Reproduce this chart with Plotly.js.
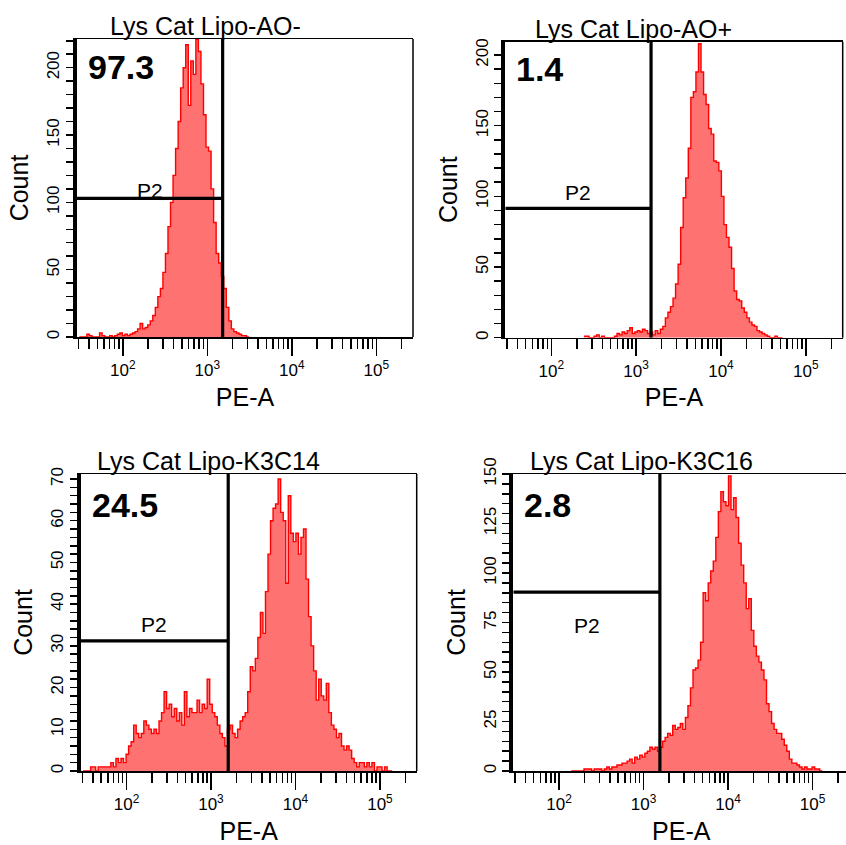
<!DOCTYPE html>
<html>
<head>
<meta charset="utf-8">
<script src="https://cdn.plot.ly/plotly-3.0.1.min.js"></script>
<style>
html, body { margin: 0; padding: 0; overflow: hidden; background: #ffffff; }
#chart { width: 850px; height: 845px; }
</style>
</head>
<body>
<div id="chart"></div>
<script>
// ---------------- data ----------------
const panelTitles = ["Lys Cat Lipo-AO-", "Lys Cat Lipo-AO+", "Lys Cat Lipo-K3C14", "Lys Cat Lipo-K3C16"];
const gatePercents = ["97.3", "1.4", "24.5", "2.8"];
const gateName = "P2";

// histogram bins: log10(PE-A) of first bin centre, equal log-width bins
const binStep = 0.03;
const binStarts = [1.50, 2.40, 1.50, 2.16];

const countsAOneg = [0,0,0,2,1,0,0,0,3,1, 0,0,1,0,1,2,3,1,2,1, 2,3,4,6,10,6,7,9,12,16,
  22,30,36,48,62,82,100,120,140,160, 185,200,217,172,205,195,221,212,188,165,
  141,138,110,85,62,55,45,36,22,12, 6,4,3,2,1,1,0];

const countsAOpos = [1,1,0,0,1,2,0,1,0,0, 0,0,1,3,2,4,3,5,7,3, 4,5,4,6,5,3,4,2,5,3,
  6,8,14,18,22,28,38,52,78,99, 113,134,170,174,188,208,188,172,165,148,
  144,125,124,118,100,80,71,64,49,33, 27,26,21,18,14,11,9,8,5,4, 3,2,1,0,0,1,0,0];

const countsK3C14 = [0,0,0,1,1,0,1,1,1,1, 1,2,1,3,2,3,2,4,6,7, 11,9,8,9,12,11,10,9,10,9,
  12,14,19,15,16,13,15,12,14,11, 19,13,15,14,14,17,14,16,15,22, 16,14,13,11,9,8,6,10,11,9,
  8,10,12,13,14,19,25,24,27,32, 38,33,43,52,60,63,64,70,62,60, 45,66,57,55,57,52,56,58,46,37,
  30,24,17,22,18,17,21,14,11,10, 8,9,6,5,6,5,3,2,1,2, 2,1,2,1,2,0,1,1,0,1, 0,0];

const countsK3C16 = [0,0,0,0,0,1,1,1,0,1, 1,1,0,1,2,1,2,2,3,3, 4,4,5,6,4,7,6,8,7,9,
  10,12,11,12,10,12,15,17,19,18, 23,21,22,24,21,27,33,42,51,52, 56,65,90,86,95,101,106,118,131,141,
  136,134,149,132,138,128,115,104,95,82, 87,71,63,58,55,51,46,34,30,24, 21,19,19,16,13,10,6,4,4,3,
  2,1,2,1,1,2,1,1,0];

const panelCounts = [countsAOneg, countsAOpos, countsK3C14, countsK3C16];

// gate P2: from axis minimum up to gate end (PE-A), marker height (Count)
const gateEnds = [1520, 1500, 1600, 1560];
const gateHeights = [103, 91.5, 31.2, 90.3];
const gateLabelCounts = [108.5, 103, 35.1, 73.7];

// axes
const xRangeLog = [1.458, 5.435];
const yMaxes = [221.3, 209.4, 71.2, 150];
const yLabelSteps = [50, 50, 10, 25];
const yMinorSteps = [10, 10, 2, 5];
const xTickVals = [100, 1000, 10000, 100000];
const xTickText = ["10<sup>2</sup>", "10<sup>3</sup>", "10<sup>4</sup>", "10<sup>5</sup>"];
const xMinorVals = [30,40,50,60,70,80,90, 200,300,400,500,600,700,800,900,
  2000,3000,4000,5000,6000,7000,8000,9000, 20000,30000,40000,50000,60000,70000,80000,90000, 200000];

// ---------------- layout geometry ----------------
const W = 850, H = 845;
const frames = [ // pixel boxes [left, top, right, bottom]
  [77, 39, 413, 337],
  [505.3, 41.7, 842.7, 337.7],
  [80.7, 474, 416.7, 771],
  [513.3, 474, 849.3, 771]
];
const pctShift = [-28, -27, -31, -31];
const FONT = "Liberation Sans, Arial, sans-serif";

const traces = [];
const layout = {
  width: W, height: H,
  margin: {l: 0, r: 0, t: 0, b: 0},
  paper_bgcolor: "#ffffff", plot_bgcolor: "#ffffff",
  showlegend: false,
  font: {family: FONT, color: "#000000"},
  annotations: [], shapes: []
};

for (let p = 0; p < 4; p++) {
  const sfx = p === 0 ? "" : String(p + 1);
  const xa = "x" + sfx, ya = "y" + sfx;
  const counts = panelCounts[p];
  const xs = [], ys = [];
  for (let k = 0; k < counts.length; k++) {
    xs.push(Math.pow(10, binStarts[p] + (k - 0.5) * binStep));
    ys.push(counts[k]);
  }
  xs.push(Math.pow(10, binStarts[p] + (counts.length - 0.5) * binStep));
  ys.push(counts[counts.length - 1]);
  traces.push({
    type: "scatter", mode: "lines", x: xs, y: ys, xaxis: xa, yaxis: ya,
    line: {shape: "hv", color: "#ff0000", width: 1.4},
    fill: "tozeroy", fillcolor: "#ff7272", hoverinfo: "skip"
  });
  const gStart = Math.pow(10, xRangeLog[0]);
  traces.push({
    type: "scatter", mode: "lines", x: [gStart, gateEnds[p]], y: [gateHeights[p], gateHeights[p]],
    xaxis: xa, yaxis: ya, line: {color: "#000000", width: 3.2}, hoverinfo: "skip", cliponaxis: false
  });
  traces.push({
    type: "scatter", mode: "lines", x: [gateEnds[p], gateEnds[p]], y: [0, yMaxes[p]],
    xaxis: xa, yaxis: ya, line: {color: "#000000", width: 3.2}, hoverinfo: "skip"
  });

  const f = frames[p];
  layout["xaxis" + sfx] = {
    type: "log", range: xRangeLog.slice(), anchor: ya,
    domain: [f[0] / W, Math.min(1, f[2] / W)],
    showline: true, linecolor: "#000000", linewidth: 1.5, mirror: true,
    ticks: "outside", ticklen: 17, tickwidth: 1.5, tickcolor: "#000000",
    tickmode: "array", tickvals: xTickVals, ticktext: xTickText,
    tickfont: {family: FONT, size: 17, color: "#000000"},
    minor: {tickmode: "array", tickvals: xMinorVals, ticks: "outside", ticklen: 10, tickwidth: 1.5, tickcolor: "#000000", showgrid: false},
    showgrid: false, zeroline: false, fixedrange: true,
    title: {text: "PE-A", font: {family: FONT, size: 25, color: "#000000"}, standoff: 9}
  };
  layout["yaxis" + sfx] = {
    range: [0, yMaxes[p]], anchor: xa,
    domain: [1 - f[3] / H, 1 - f[1] / H],
    showline: true, linecolor: "#000000", linewidth: 4,
    ticks: "outside", ticklen: 7, tickwidth: 1.5, tickcolor: "#000000",
    tick0: 0, dtick: yLabelSteps[p], tickangle: -90,
    tickfont: {family: FONT, size: 17, color: "#000000"},
    minor: {tick0: 0, dtick: yMinorSteps[p], ticks: "outside", ticklen: 7, tickwidth: 1.5, tickcolor: "#000000", showgrid: false},
    showgrid: false, zeroline: false, fixedrange: true,
    title: {text: "Count", font: {family: FONT, size: 25, color: "#000000"}, standoff: 9}
  };
  layout.shapes.push({
    type: "line", xref: xa + " domain", yref: ya + " domain",
    x0: 1, x1: 1, y0: 0, y1: 1, line: {color: "#000000", width: 1.5}
  });
  layout.annotations.push({
    text: panelTitles[p], xref: xa + " domain", yref: ya + " domain",
    x: 128 / 336, y: 1, xanchor: "center", yanchor: "bottom", yshift: -2, showarrow: false,
    font: {family: FONT, size: 25, color: "#000000"}, borderpad: 0
  });
  layout.annotations.push({
    text: "<b>" + gatePercents[p] + "</b>", xref: xa + " domain", yref: ya + " domain",
    x: 0, y: 1, xanchor: "left", yanchor: "middle", xshift: 9, yshift: pctShift[p], showarrow: false,
    font: {family: FONT, size: 34, color: "#000000"}
  });
  layout.annotations.push({
    text: gateName, xref: xa, yref: ya,
    x: (xRangeLog[0] + Math.log10(gateEnds[p])) / 2, y: gateLabelCounts[p],
    xanchor: "center", yanchor: "middle", showarrow: false,
    font: {family: FONT, size: 21, color: "#000000"}
  });
}

Plotly.newPlot("chart", traces, layout, {staticPlot: true, displayModeBar: false});
</script>
</body>
</html>
